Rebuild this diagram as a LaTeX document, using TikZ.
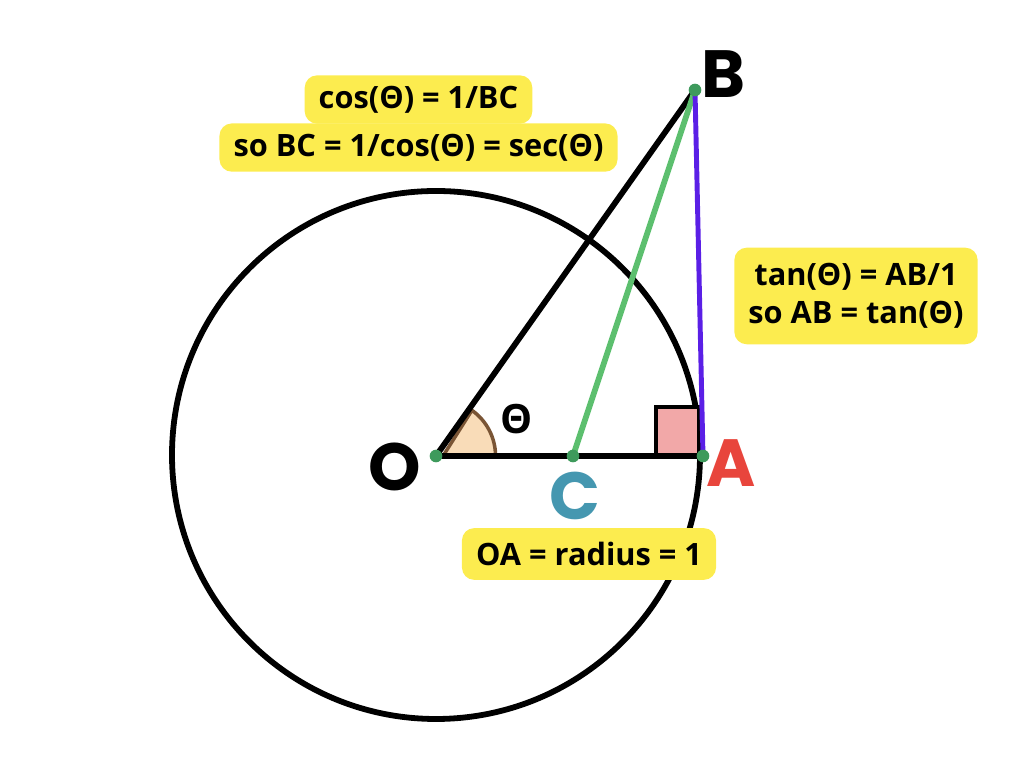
\documentclass[tikz,border=0pt]{standalone}
\usepackage{fontspec}
\setmainfont{Open Sans}
\newfontfamily\letterfont{Poppins}
\usetikzlibrary{positioning}
\definecolor{hiyellow}{HTML}{FCEC4F}
\definecolor{segpurple}{HTML}{5A1FE6}
\definecolor{seggreen}{HTML}{5CBF6E}
\definecolor{dotgreen}{HTML}{3E9A5C}
\definecolor{anglefill}{HTML}{F9DCB8}
\definecolor{angleline}{HTML}{7A5535}
\definecolor{sqpink}{HTML}{F2A8A8}
\definecolor{labred}{HTML}{E8453C}
\definecolor{labteal}{HTML}{4597B0}
\tikzset{
  seg/.style={line width=3.3pt},
  dot/.style={fill=dotgreen},
  bigletter/.style={font=\letterfont\bfseries\fontsize{38}{38}\selectfont},
  note/.style={fill=hiyellow, rounded corners=7pt, font=\bfseries\fontsize{17.5}{21.5}\selectfont,
    align=center, inner xsep=8pt, inner ysep=6pt}
}
\begin{document}
\begin{tikzpicture}
\useasboundingbox (0,0) rectangle (20.48,15.62);
\coordinate (O) at (8.72,6.50);
\coordinate (A) at (14.06,6.50);
\coordinate (B) at (13.90,13.82);
\coordinate (C) at (11.46,6.50);

% angle wedge
\filldraw[fill=anglefill, draw=angleline, line width=2pt] ([xshift=4pt]O) -- ++(0:1.05) arc (0:54.7:1.12) -- cycle;
% circle
\draw[seg] (8.72,6.52) circle (5.28);
% right angle mark
\filldraw[fill=sqpink, draw=black, line width=2.6pt] (13.12,6.52) rectangle (13.98,7.48);

\draw[seg] (O) -- (A);
\draw[seg] (O) -- (B);
\draw[line width=3.3pt, seggreen] (C) -- (B);
\draw[line width=2.8pt, segpurple] (B) -- (A);

\foreach \p in {O,A,B,C} \fill[dot] (\p) circle (3.6pt);

\node[bigletter] (labO) at (7.90,6.28) {O};
\node[bigletter] (labB) at (14.48,14.14) {B};
\node[bigletter, labred] (labA) at (14.62,6.36) {A};
\node[bigletter, labteal] (labC) at (11.50,5.70) {C};
\node[font=\bfseries\fontsize{23}{23}\selectfont] (theta) at (10.34,7.24) {Θ};

\node[note] (cosnote) at (8.37,13.63) {cos(Θ) = 1/BC};
\node[note, below=-0.5pt of cosnote] (secnote) {so BC = 1/cos(Θ) = sec(Θ)};
\node[note, inner ysep=9pt] (tannote) at (17.12,9.70) {tan(Θ) = AB/1\\so AB = tan(Θ)};
\node[note, inner ysep=8pt] (oanote) at (11.78,4.54) {OA = radius = 1};
\end{tikzpicture}
\end{document}
